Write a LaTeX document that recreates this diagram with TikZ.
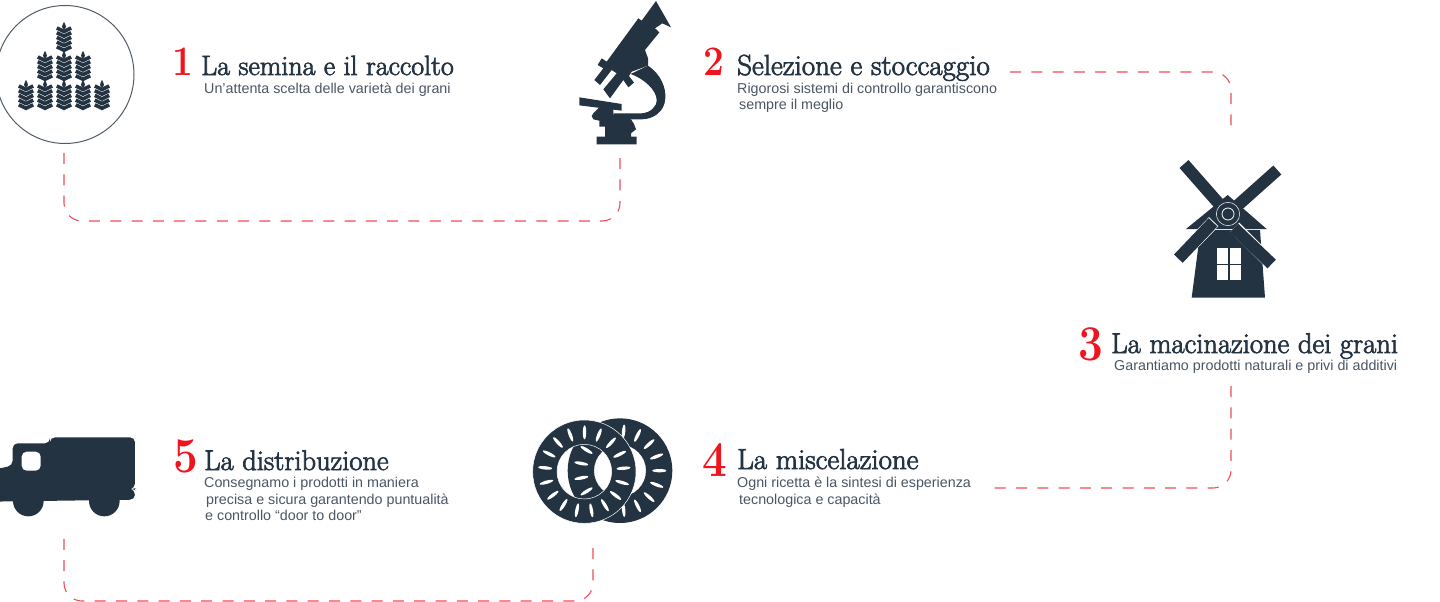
\documentclass[tikz,border=0pt]{standalone}
\usepackage{fontspec}
\setsansfont{Liberation Sans}
\newfontfamily\headfont[FakeBold=2.5]{Latin Modern Roman}
\definecolor{ink}{HTML}{233342}
\definecolor{bodyink}{HTML}{4A5663}
\definecolor{dashred}{HTML}{EC4F57}
\definecolor{numred}{HTML}{F0141E}
\begin{document}
\begin{tikzpicture}[x=1pt, y=-1pt]
	\tikzstyle{head}  = [anchor=base west, inner sep=0pt, text=ink]
	\tikzstyle{body}  = [anchor=base west, inner sep=0pt, text=bodyink, font=\sffamily\fontsize{14.3}{14.3}\selectfont]
	\tikzstyle{numb}  = [anchor=base west, inner sep=0pt, text=numred, xscale=0.88, transform shape]
	\tikzstyle{link}  = [draw=dashred, line width=1.1pt, dash pattern=on 11pt off 10.3pt, rounded corners=18pt]
	\tikzstyle{icon}  = [fill=ink, draw=none]

	\useasboundingbox (0, 0) rectangle (1440, 602);

	% wheat
	\node[circle, draw=ink!80, line width=1pt, minimum size=138pt, inner sep=0pt] (wheat) at (65, 74.5) {};
	\foreach \x/\y in {64/22, 45/51, 64/51, 83/51, 26/80, 45/80, 64/80, 83/80, 102/80} {
		\fill[ink] (\x, \y) .. controls (\x+2.5, \y+4) and (\x+2.5, \y+6) .. (\x, \y+8) .. controls (\x-2.5, \y+6) and (\x-2.5, \y+4) .. (\x, \y);
		\foreach \k in {0, 1, 2, 3, 4}
			\draw[ink, line width=3.6pt] (\x-7.2, \y+6+\k*4.7) -- (\x, \y+9.5+\k*4.7) -- (\x+7.2, \y+6+\k*4.7);
	}

	% microscope
	\begin{scope}[shift={(560, 0)}, scale=1/3]
		\fill[icon] (288, 3) -- (333, 82) -- (307, 70) -- (285, 85) -- (298, 97) -- (255, 150) -- (264, 175) -- (264, 197) -- (215, 215) -- (207, 228) -- (222, 248) -- (205, 262) -- (190, 240) -- (150, 295) -- (130, 268) -- (170, 220) -- (155, 210) -- (120, 255) -- (103, 240) -- (130, 205) -- (113, 195) -- (125, 175) -- (140, 185) -- (235, 55) -- (245, 62) -- cycle;
		\fill[icon] (264, 197) .. controls (305, 225) and (318, 265) .. (316, 295) .. controls (314, 335) and (280, 358) .. (245, 358) -- (160, 358) -- (160, 340) -- (245, 340) .. controls (270, 338) and (290, 322) .. (290, 300) .. controls (290, 270) and (250, 235) .. (212, 222) -- cycle;
		\fill[icon] (58, 292) -- (185, 312) -- (185, 332) -- (58, 316) -- cycle;
		\fill[icon] (120, 320) -- (160, 326) -- (160, 345) -- (213, 358) -- (222, 372) -- (228, 388) -- (213, 400) -- (213, 410) -- (230, 410) -- (230, 433) -- (110, 433) -- (110, 410) -- (135, 410) -- (135, 380) -- (118, 380) -- (118, 362) -- (100, 358) -- (95, 348) -- (100, 340) -- cycle;
	\end{scope}

	% windmill
	\begin{scope}[shift={(1160, 150)}, scale=1/3]
		\fill[icon] (165, 240) -- (300, 240) -- (315, 443) -- (95, 443) -- (115, 290) -- cycle;
		\fill[white] (170, 295) rectangle (243, 390);
		\draw[ink, line width=1.2pt] (207, 295) -- (207, 390) (170, 343) -- (243, 343);
		\fill[icon] (203, 135) -- (320, 237) -- (78, 237) -- cycle;
		\draw[ink, line width=12pt] (204, 192) -- (72, 42);
		\draw[ink, line width=12pt] (204, 192) -- (352, 60);
		\draw[white, line width=13pt] (161, 215) -- (55, 326);
		\draw[white, line width=13pt] (224, 232) -- (335, 342);
		\draw[ink, line width=12pt] (159, 217) -- (55, 326);
		\draw[ink, line width=12pt] (222, 234) -- (335, 342);
		\fill[icon] (204, 192) circle (35);
		\draw[white, line width=0.5pt] (204, 192) circle (35);
		\draw[white, line width=0.8pt] (204, 192) circle (18);
	\end{scope}

	% bread
	\begin{scope}[shift={(520, 405)}, scale=1/3]
		\fill[ink, even odd rule] (300, 197) circle (157) (300, 197) circle (78);
		\foreach \a in {0, 21.18, ..., 340}
			\fill[white, shift={(300, 197)}, rotate=\a] (118, 0) ellipse (21 and 5);
		\fill[ink, even odd rule] (193, 200) circle (155) (193, 200) circle (82);
		\draw[white, line width=0.5pt] (193, 200) circle (155) (193, 200) circle (82);
		\foreach \a in {5, 26.18, ..., 345}
			\fill[white, shift={(193, 200)}, rotate=\a] (118, 0) ellipse (21 and 5);
	\end{scope}

	% truck
	\begin{scope}[shift={(0, 425)}, scale=1/3]
		\fill[icon, rounded corners=5pt] (150, 55) -- (150, 37) -- (405, 37) -- (405, 190) -- (395, 192) -- (405, 195) -- (405, 224) -- (-30, 230) -- (-30, 136) -- (38, 122) -- (38, 55) -- cycle;
		\fill[icon] (85, 228) circle (46);
		\fill[icon] (313, 228) circle (46);
		\fill[white, rounded corners=5pt] (65, 80) rectangle (122, 137);
	\end{scope}

	% headings and numbers
	\foreach \text/\x/\y/\size in {La semina e il raccolto/201/75/27.9, Selezione e stoccaggio/737/75/29, La macinazione dei grani/1111/353/28.6, La miscelazione/737/469/28.9, La distribuzione/204/470/28.5}
		\node[head, font=\headfont\fontsize{\size}{\size}\selectfont] (head\x) at (\x, \y) {\text};
	\foreach \text/\x/\y/\size in {1/172/76/42, 2/703/76/42, 3/1078/360/50, 4/702/476/50, 5/173/472/50}
		\node[numb, font=\rmfamily\bfseries\fontsize{\size}{\size}\selectfont] (num\text) at (\x, \y) {\text};

	% descriptions
	\foreach \text/\x/\y/\name in {Un’attenta scelta delle varietà dei grani/204/93/a, Rigorosi sistemi di controllo garantiscono/737/93/b, sempre il meglio/739/110/c, Garantiamo prodotti naturali e privi di additivi/1114/370/d, Ogni ricetta è la sintesi di esperienza/737/487/e, tecnologica e capacità/739/504/f, Consegnamo i prodotti in maniera/204/487/g, precisa e sicura garantendo puntualità/206/504/h, e controllo “door to door”/205/520/i}
		\node[body] (line\name) at (\x, \y) {\text};

	% connector ends
	\foreach \name/\x/\y in {wheatout/64/153, micin/620/153, selout/1010/72, millin/1231/126, millout/1231/386, mixout/994/488, breadout/593/548, truckin/64/538}
		\coordinate (\name) at (\x, \y);

	\draw[link] (wheatout) -- ++(0, 68) -| (micin);
	\draw[link] (selout) -| (millin);
	\draw[link] (millout) |- (mixout);
	\draw[link] (breadout) -- ++(0, 53) -| (truckin);
\end{tikzpicture}
\end{document}
